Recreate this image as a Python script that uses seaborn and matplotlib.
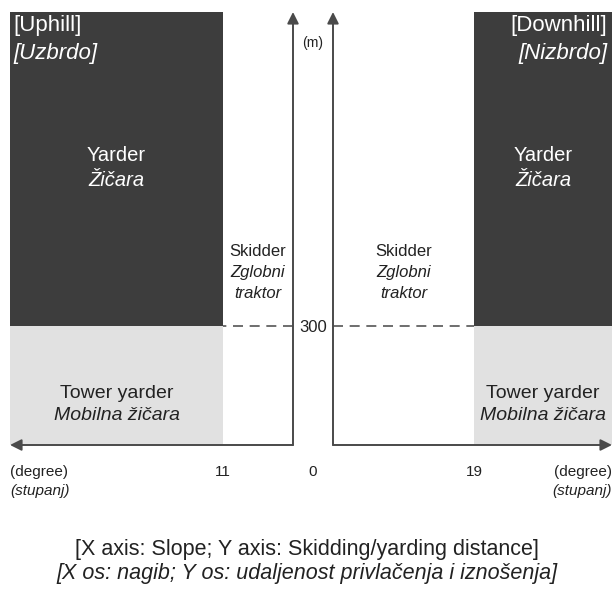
import seaborn as sns
import matplotlib.pyplot as plt

sns.set_theme(style="white")
plt.rcParams['font.family'] = ['Liberation Sans', 'DejaVu Sans']

# data: slope thresholds (degree) and distance threshold (m)
sides = ["Uphill", "Downhill"]
sides_hr = ["Uzbrdo", "Nizbrdo"]
slope_limit = [11, 19]
slope_max = [44.5, 37.6]
distance_limit = 300
distance_max = 1095

dark = "#3d3d3d"
light = "#e1e1e1"
axis_col = "#4a4a4a"
txt = "#222222"

fig = plt.figure(figsize=(6.14, 5.95), dpi=100)
W, H = 614, 595
y_axis = 445
bottom = (H - y_axis) / H
height = (y_axis - 12) / H
ax_l = fig.add_axes([10 / W, bottom, (293 - 10) / W, height])
ax_r = fig.add_axes([333 / W, bottom, (612 - 333) / W, height])


def py(v):
    # pixel row -> distance value
    return (y_axis - v) / (y_axis - 12) * distance_max


for i, ax in enumerate([ax_l, ax_r]):
    lim, smax = slope_limit[i], slope_max[i]
    # tower yarder zone and yarder zone
    ax.bar(lim, distance_limit, width=smax - lim, align='edge', color=light, linewidth=0)
    ax.bar(lim, distance_max - distance_limit, bottom=distance_limit, width=smax - lim,
           align='edge', color=dark, linewidth=0)
    ax.plot([0, lim], [distance_limit, distance_limit], color="#555555", lw=1.2,
            dashes=(6, 4))
    if i == 0:
        ax.set_xlim(smax, 0)
    else:
        ax.set_xlim(0, smax)
    ax.set_ylim(0, distance_max)
    ax.axis('off')
    # axes arrows
    arrow = dict(arrowstyle='-|>', color=axis_col, lw=1.4, mutation_scale=17,
                 shrinkA=0, shrinkB=0)
    ax.annotate("", xy=(0, distance_max), xytext=(0, 0), arrowprops=arrow,
                annotation_clip=False)
    ax.annotate("", xy=(smax, 0), xytext=(0, 0), arrowprops=arrow,
                annotation_clip=False)

    cx = (lim + smax) / 2
    ax.text(cx, py(155), "Yarder", color="white", ha='center', va='center', fontsize=14.5)
    ax.text(cx, py(180), "Žičara", color="white", ha='center', va='center', fontsize=14.5,
            style='italic')
    ax.text(cx, py(393), "Tower yarder", color=txt, ha='center', va='center', fontsize=14)
    ax.text(cx, py(416), "Mobilna žičara", color=txt, ha='center', va='center', fontsize=14,
            style='italic')
    sx = lim / 2
    ax.text(sx, py(251), "Skidder", color=txt, ha='center', va='center', fontsize=12)
    ax.text(sx, py(272), "Zglobni", color=txt, ha='center', va='center', fontsize=12,
            style='italic')
    ax.text(sx, py(293), "traktor", color=txt, ha='center', va='center', fontsize=12,
            style='italic')
    # slope tick label
    ax.text(lim, py(472), str(lim), ha='center', va='center', fontsize=11, color=txt)
    ha = 'left' if i == 0 else 'right'
    ax.text(smax, py(472), "(degree)", ha=ha, va='center', fontsize=11, color=txt)
    ax.text(smax, py(491), "(stupanj)", ha=ha, va='center', fontsize=11, color=txt,
            style='italic')
    ax.text(smax - 0.6, py(26), f"[{sides[i]}]", ha=ha, va='center', fontsize=16,
            color="white")
    ax.text(smax - 0.6, py(54), f"[{sides_hr[i]}]", ha=ha, va='center', fontsize=16,
            color="white", style='italic')

# shared labels between the two vertical axes
mid = 313 / W
fig.text(mid, (H - 43) / H, "(m)", ha='center', va='center', fontsize=10, color=txt)
fig.text(mid, (H - 328) / H, str(distance_limit), ha='center', va='center', fontsize=12,
         color=txt, bbox=dict(facecolor='white', edgecolor='none', pad=1))
fig.text(mid, (H - 472) / H, "0", ha='center', va='center', fontsize=11, color=txt)

fig.text(0.5, (H - 549) / H, "[X axis: Slope; Y axis: Skidding/yarding distance]",
         ha='center', va='center', fontsize=15.5, color=txt)
fig.text(0.5, (H - 573) / H, "[X os: nagib; Y os: udaljenost privlačenja i iznošenja]",
         ha='center', va='center', fontsize=15.5, color=txt, style='italic')

fig.savefig("out.png", dpi=100)
